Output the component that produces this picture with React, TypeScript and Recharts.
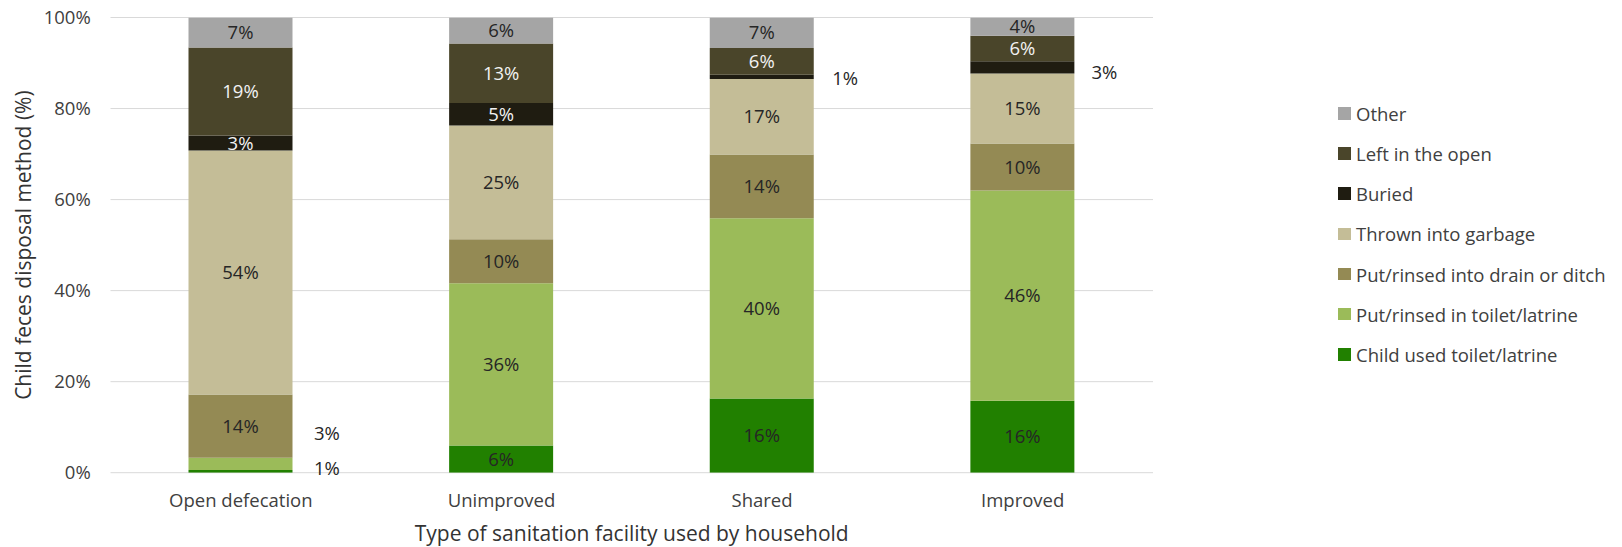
import React from 'react';
import { BarChart, Bar, XAxis, YAxis, CartesianGrid, Legend, LabelList } from 'recharts';

const categories = ['Open defecation', 'Unimproved', 'Shared', 'Improved'];
const childUsedToilet = [0.6, 6.0, 16.3, 15.8];
const rinsedInToilet = [2.7, 35.6, 39.6, 46.2];
const rinsedIntoDrain = [13.9, 9.7, 14.0, 10.3];
const thrownIntoGarbage = [53.6, 25.0, 16.6, 15.4];
const buried = [3.3, 4.9, 0.9, 2.7];
const leftInOpen = [19.3, 13.1, 5.9, 5.6];
const other = [6.6, 5.7, 6.7, 4.0];
const yTicks = [0, 20, 40, 60, 80, 100];

const xTitle = 'Type of sanitation facility used by household';
const yTitle = 'Child feces disposal method (%)';

const seriesDefs = [
  { key: 'child', name: 'Child used toilet/latrine', values: childUsedToilet, color: '#218000', labelColor: '#262626' },
  { key: 'toilet', name: 'Put/rinsed in toilet/latrine', values: rinsedInToilet, color: '#9BBB59', labelColor: '#262626' },
  { key: 'drain', name: 'Put/rinsed into drain or ditch', values: rinsedIntoDrain, color: '#948A54', labelColor: '#262626' },
  { key: 'garbage', name: 'Thrown into garbage', values: thrownIntoGarbage, color: '#C4BD97', labelColor: '#262626' },
  { key: 'buried', name: 'Buried', values: buried, color: '#1F1C11', labelColor: '#F2F2F2' },
  { key: 'left', name: 'Left in the open', values: leftInOpen, color: '#4A452A', labelColor: '#F2F2F2' },
  { key: 'other', name: 'Other', values: other, color: '#A5A5A5', labelColor: '#262626' },
];

// small segments whose labels sit to the right of the bar (styling only)
const outsideLabels: Record<string, { dx: number; dy: number }> = {
  'toilet-0': { dx: 21.5, dy: -30.5 },
  'child-0': { dx: 21.5, dy: -3 },
  'buried-2': { dx: 18.4, dy: 1.3 },
  'buried-3': { dx: 17, dy: 4.5 },
};

const data = categories.map((c, i) => {
  const row: Record<string, any> = { category: c };
  seriesDefs.forEach((s) => {
    row[s.key] = s.values[i];
  });
  return row;
});

const FONT = 18.5;
const TITLE_FONT = 21;
const W = 1622;
const H = 547;

const makeLabel = (s: typeof seriesDefs[number]) => (props: any) => {
  const x = Number(props.x);
  const y = Number(props.y);
  const width = Number(props.width);
  const height = Number(props.height);
  const index = Number(props.index);
  const v = s.values[index];
  if (v === undefined) return null;
  const text = `${Math.round(v)}%`;
  const out = outsideLabels[`${s.key}-${index}`];
  if (out) {
    return (
      <text x={x + width + out.dx} y={y + height / 2 + out.dy} dy="0.36em" textAnchor="start" fill="#262626" fontSize={FONT}>
        {text}
      </text>
    );
  }
  return (
    <text x={x + width / 2} y={y + height / 2} dy="0.36em" textAnchor="middle" fill={s.labelColor} fontSize={FONT}>
      {text}
    </text>
  );
};

const LegendBody = () => (
  <div style={{ fontFamily: '"Open Sans", sans-serif', fontSize: FONT, color: '#404040' }}>
    {[...seriesDefs].reverse().map((s) => (
      <div key={s.key} style={{ display: 'flex', alignItems: 'center', height: 40.2, whiteSpace: 'nowrap' }}>
        <span style={{ display: 'inline-block', width: 12.5, height: 12.5, background: s.color, marginRight: 5.5 }} />
        <span>{s.name}</span>
      </div>
    ))}
  </div>
);

const YTitle = (props: any) => {
  const vb = props.viewBox || { x: 0, y: 17.5, width: 110.5, height: 455 };
  const cx = vb.x + 31.5;
  const cy = vb.y + vb.height / 2;
  return (
    <text x={cx} y={cy} transform={`rotate(-90, ${cx}, ${cy})`} textAnchor="middle" fill="#333333" fontSize={TITLE_FONT}>
      {yTitle}
    </text>
  );
};

const XTitle = (props: any) => {
  const vb = props.viewBox || { x: 110.5, y: 472.7, width: 1042.5, height: 74.3 };
  const cx = vb.x + vb.width / 2;
  const cy = vb.y + 68.3;
  return (
    <text x={cx} y={cy} textAnchor="middle" fill="#333333" fontSize={TITLE_FONT}>
      {xTitle}
    </text>
  );
};

export default function App() {
  return (
    <div style={{ position: 'absolute', left: 0, top: 0, width: W, height: H, background: '#fff', fontFamily: '"Open Sans", sans-serif' }}>
      <BarChart width={W} height={H} data={data} margin={{ top: 17.5, right: 469, bottom: 0, left: 0 }} barSize={104}>
        <CartesianGrid vertical={false} stroke="#D9D9D9" strokeWidth={1} />
        <XAxis
          dataKey="category"
          height={74.3}
          axisLine={false}
          tickLine={false}
          tickSize={0}
          tickMargin={21}
          tick={{ fill: '#404040', fontSize: FONT }}
          interval={0}
          label={XTitle}
        />
        <YAxis
          width={110.5}
          domain={[0, 100]}
          ticks={yTicks}
          allowDataOverflow
          axisLine={false}
          tickLine={false}
          tickSize={0}
          tickMargin={19.8}
          tick={{ fill: '#404040', fontSize: FONT }}
          tickFormatter={(v: number) => `${v}%`}
          label={YTitle}
        />
        <Legend
          layout="vertical"
          align="center"
          verticalAlign="middle"
          wrapperStyle={{ left: 1338, top: 93.2, width: 280 }}
          content={() => <LegendBody />}
        />
        {seriesDefs.map((s) => (
          <Bar key={s.key} dataKey={s.key} name={s.name} stackId="a" fill={s.color} isAnimationActive={false}>
            <LabelList dataKey={s.key} content={makeLabel(s)} />
          </Bar>
        ))}
      </BarChart>
    </div>
  );
}
